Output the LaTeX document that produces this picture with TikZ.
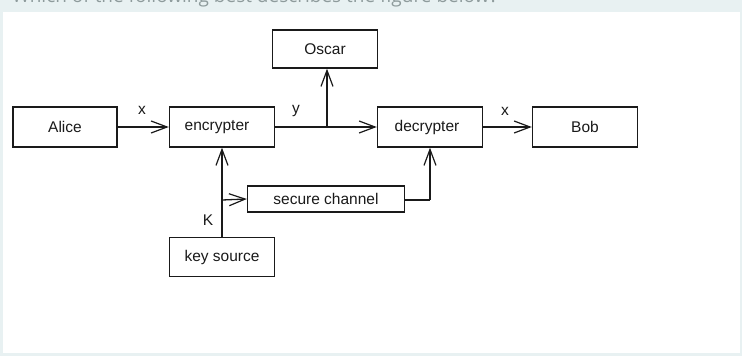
\documentclass[tikz,border=0pt]{standalone}
\usepackage{fontspec}
\setmainfont{Liberation Sans}
\newfontfamily\qfont{Open Sans}
\usetikzlibrary{arrows.meta}
\definecolor{bgteal}{HTML}{E8F1F2}
\definecolor{qgray}{HTML}{8E9B9C}
\definecolor{ink}{HTML}{1A1A1A}
\begin{document}
\begin{tikzpicture}[x=1pt,y=-1pt,
  blk/.style={draw=ink,line width=1.4pt,minimum height=40pt,minimum width=105pt,inner sep=0pt,font=\fontsize{15.5}{18}\selectfont,text=ink},
  lbl/.style={font=\fontsize{15.5}{18}\selectfont,text=ink,inner sep=0pt},
  conn/.style={draw=ink,line width=1.3pt},
  arr/.style={conn,-{Straight Barb[length=16pt,width=12pt,line width=1.2pt]}}]
\useasboundingbox (0,0) rectangle (742,356);
\clip (0,0) rectangle (742,356);
\fill[bgteal] (0,0) rectangle (742,356);
\fill[white] (3,12) rectangle (740,353);
\node[anchor=base west,text=qgray,font=\qfont\fontsize{19}{22}\selectfont,inner sep=0pt] (q) at (12,2.5) {Which of the following best describes the figure below?};
\node[blk,minimum width=104pt] (alice) at (65,127) {Alice};
\node[blk] (enc) at (222,127) {encrypter\hspace*{10pt}};
\node[blk,minimum height=38pt] (oscar) at (325,49) {Oscar};
\node[blk] (dec) at (430,127) {decrypter\hspace*{6pt}};
\node[blk] (bob) at (585,127) {Bob};
\node[blk,minimum width=157pt,minimum height=26pt] (sec) at (326,199) {secure channel};
\node[blk,minimum height=39pt] (key) at (222,257) {key source};
\coordinate (jn) at (327,127);
\coordinate (br) at (222,200);
\coordinate (sc) at (430,200);
\draw[arr] (alice.east) -- (enc.west);
\draw[conn] (enc.east) -- (jn);
\draw[arr] (jn) -- (dec.west);
\draw[arr] (jn) -- (oscar.south -| jn);
\draw[arr] (dec.east) -- (bob.west);
\draw[arr] (key.north) -- (enc.south);
\draw[arr] (br) -- (sec.west);
\draw[conn] (sec.east |- sc) -- (sc);
\draw[arr] (sc) -- (dec.south);
\node[lbl] (lx1) at (142,110) {x};
\node[lbl] (ly) at (296,111) {y};
\node[lbl] (lx2) at (505,111) {x};
\node[lbl] (lk) at (208,220) {K};
\end{tikzpicture}
\end{document}
